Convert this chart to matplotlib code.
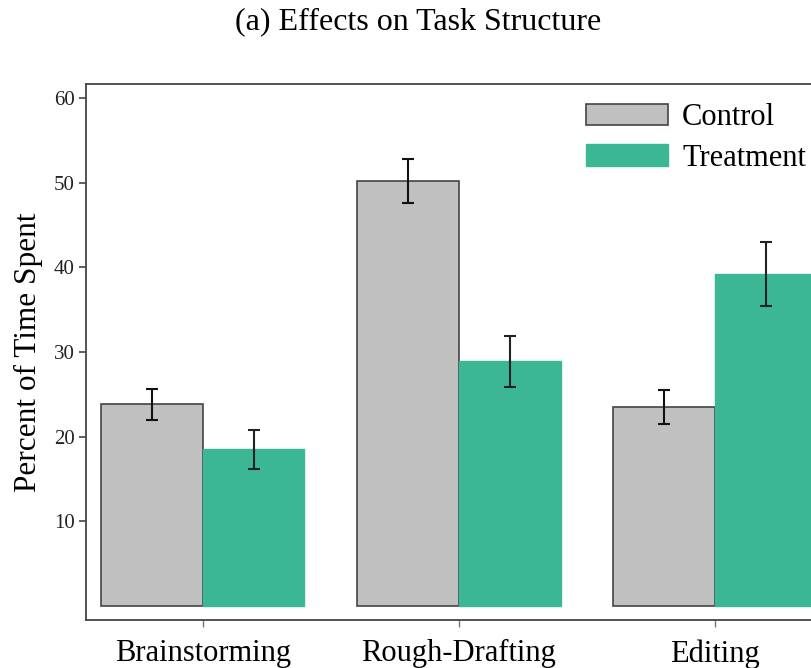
import matplotlib
matplotlib.use("Agg")
import matplotlib.pyplot as plt
import numpy as np

categories = ["Brainstorming", "Rough-Drafting", "Editing"]
control = [23.8, 50.2, 23.5]
control_err = [1.8, 2.6, 2.0]
treatment = [18.5, 28.9, 39.2]
treatment_err = [2.3, 3.0, 3.8]
y_ticks = [10, 20, 30, 40, 50, 60]

plt.rcParams["font.family"] = ["Liberation Serif", "DejaVu Serif"]

fig = plt.figure(figsize=(8.12, 6.68), dpi=100)
# axes runs past the right edge, as in the original crop
ax = fig.add_axes([86 / 812, 1 - 620 / 668, 0.93, (620 - 84) / 668])

width = 1.0
groups = np.arange(len(categories)) * 2.52
ax.bar(groups - width / 2, control, width, color="#c0c0c0", edgecolor="#444444",
       linewidth=1.2, label="Control", zorder=2)
ax.bar(groups + width / 2, treatment, width, color="#3cb795", edgecolor="#3cb795",
       linewidth=1.0, label="Treatment", zorder=2)
ax.errorbar(groups - width / 2, control, yerr=control_err, fmt="none",
            ecolor="#111111", elinewidth=1.5, capsize=4.5, capthick=1.5, zorder=3)
ax.errorbar(groups + width / 2, treatment, yerr=treatment_err, fmt="none",
            ecolor="#222222", elinewidth=1.5, capsize=4.5, capthick=1.5, zorder=3)

ax.set_xlim(-1.148, 6.28)
ax.set_ylim(-1.7, 61.7)
ax.set_yticks(y_ticks)
ax.tick_params(axis="y", labelsize=15, length=5, width=1.2, color="#444444", pad=3,
               labelcolor="#222222")
ax.set_xticks(groups)
ax.set_xticklabels(categories, fontsize=22)
ax.tick_params(axis="x", length=5, width=1, color="#777777", pad=9)

for s in ["left", "bottom", "top"]:
    ax.spines[s].set_color("#444444")
    ax.spines[s].set_linewidth(1.3)
ax.spines["right"].set_visible(False)

ax.set_ylabel("Percent of Time Spent", fontsize=22.5, labelpad=8)
fig.text(418 / 812, 1 - 22 / 668, "(a) Effects on Task Structure", fontsize=23,
         ha="center", va="center")

ax.legend(loc="upper left", bbox_to_anchor=(586 / 812, 1 - 103 / 668),
          bbox_transform=fig.transFigure, frameon=False, fontsize=22,
          handlelength=2.7, handleheight=0.7, labelspacing=0.38, handletextpad=0.45,
          borderaxespad=0, borderpad=0)

fig.savefig("out.png", dpi=100)
